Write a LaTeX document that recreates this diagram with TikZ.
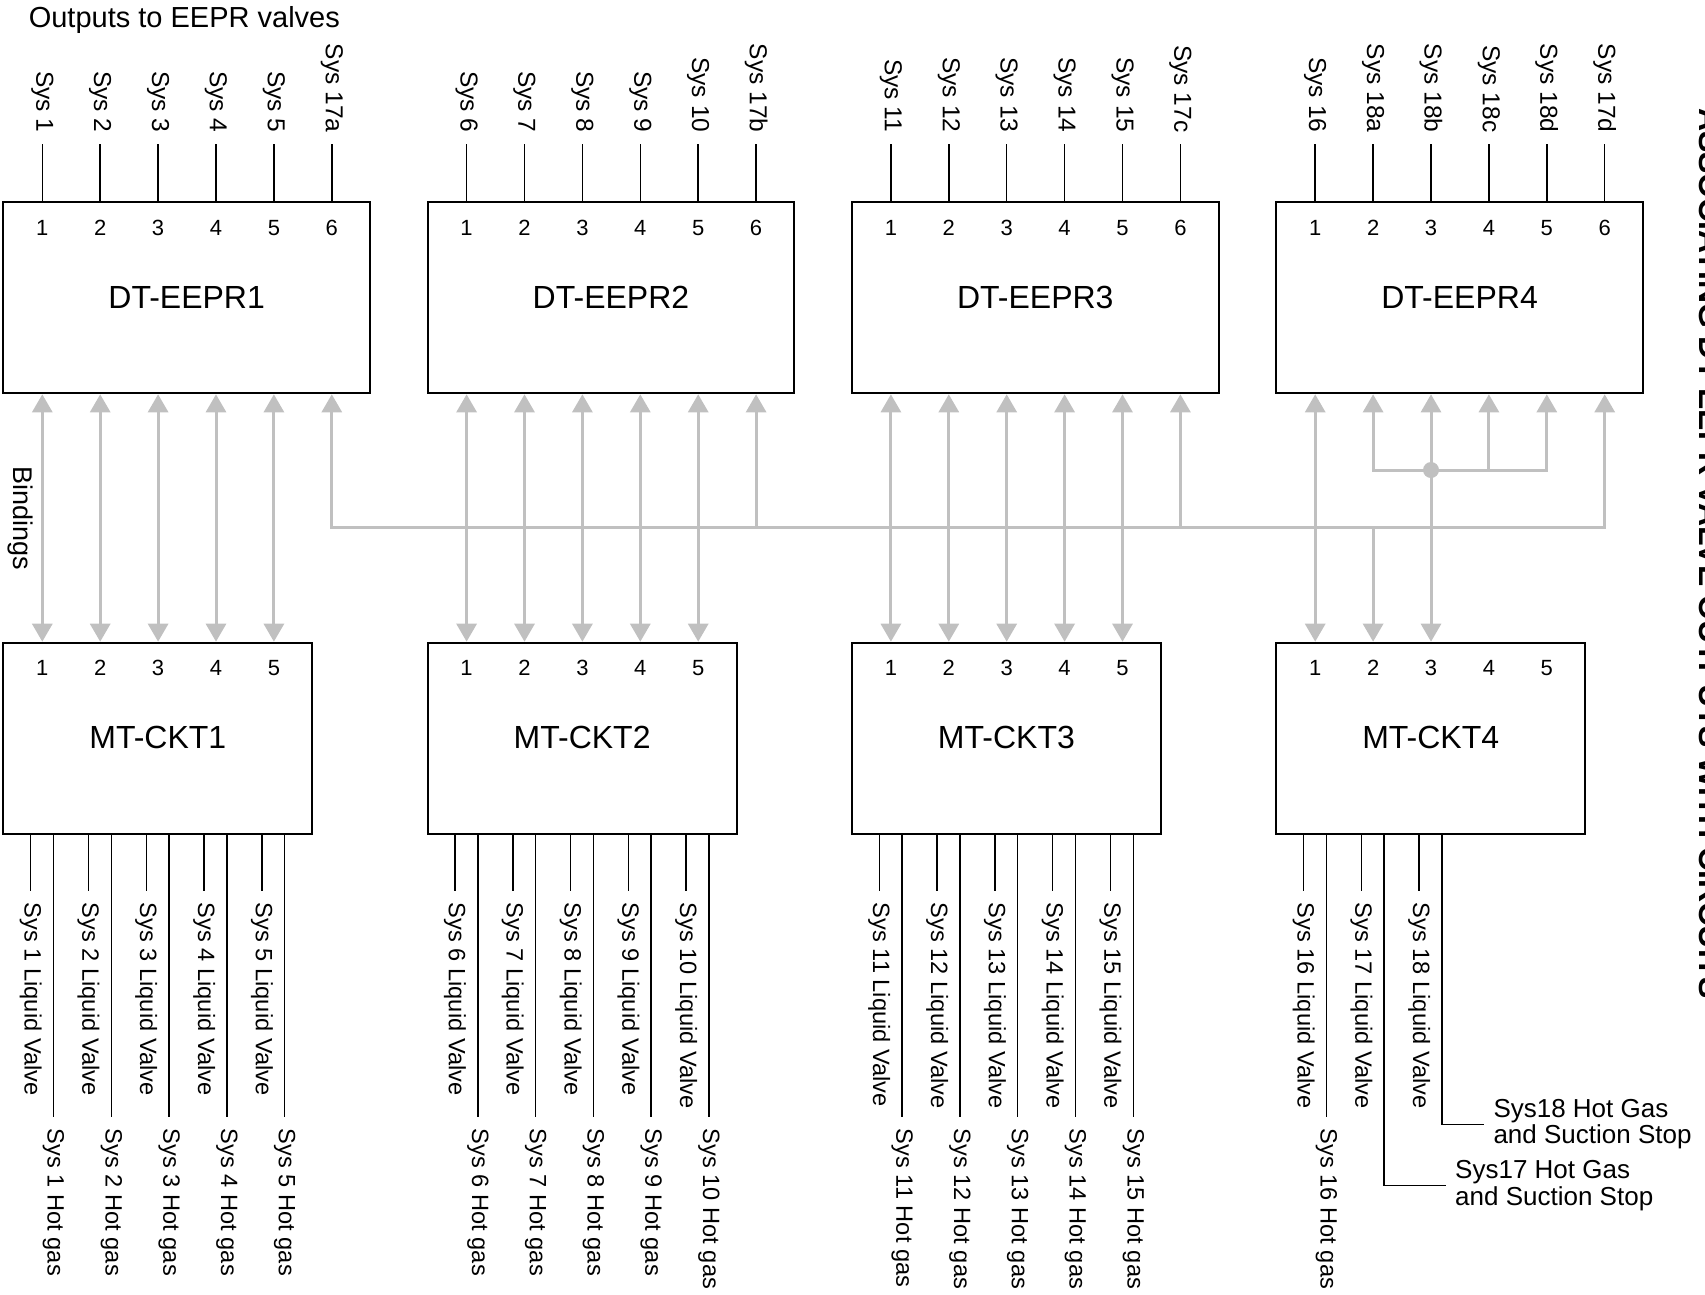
\documentclass[tikz,border=0pt]{standalone}
\usepackage{fontspec}
\setmainfont{Liberation Sans}
\usetikzlibrary{arrows.meta}
\definecolor{bindgray}{RGB}{192,192,192}
\begin{document}
\begin{tikzpicture}[x=1pt,y=-1pt,
  box/.style={draw=black, line width=2pt, inner sep=0pt, text depth=0pt, font=\fontsize{32}{38}\selectfont},
  dtbox/.style={box, minimum width=366.7pt, minimum height=191.6pt, text height=22pt},
  mtbox/.style={box, minimum width=309pt, minimum height=190.8pt, text height=20.4pt},
  pinnum/.style={anchor=base, inner sep=0pt, font=\fontsize{22}{26}\selectfont},
  toplab/.style={rotate=-90, anchor=east, inner xsep=11.5pt, inner ysep=0pt, font=\fontsize{24.5}{29}\selectfont},
  botlab/.style={rotate=-90, anchor=west, inner xsep=12pt, inner ysep=0pt, font=\fontsize{23.6}{28}\selectfont},
  callout/.style={anchor=west, align=left, inner xsep=9.3pt, inner ysep=0pt, font=\fontsize{26}{26.3}\selectfont},
  wire/.style={draw=black, line width=1.5pt},
  bind/.style={draw=bindgray, line width=3pt},
  tipup/.style={bind, -{Triangle[width=20pt,length=18pt]}},
  tipboth/.style={bind, {Triangle[width=20pt,length=18pt]}-{Triangle[width=20pt,length=18pt]}},
]
\useasboundingbox (0,0) rectangle (1705,1294);
\coordinate (toprow) at (0,144);
\coordinate (bus) at (0,527.7);
\coordinate (sub) at (0,470);

% boxes and pin numbers
\foreach \k in {0,1,2,3}{
  \pgfmathtruncatemacro\bn{\k+1}
  \pgfmathsetmacro\bx{3.3+424.3*\k}
  \node[dtbox] (d\bn) at (\bx+183.35,297.5) {DT-EEPR\bn};
  \node[mtbox] (m\bn) at (\bx+154.5,738.1) {MT-CKT\bn};
  \foreach \i in {1,...,6}{\node[pinnum] (d\bn n\i) at (\bx+39+57.9*\i-57.9,235) {\i};}
  \foreach \i in {1,...,5}{\node[pinnum] (m\bn n\i) at (\bx+39+57.9*\i-57.9,675) {\i};}
}

% top output labels
\foreach \b/\i/\t in {1/1/Sys 1,1/2/Sys 2,1/3/Sys 3,1/4/Sys 4,1/5/Sys 5,1/6/Sys 17a,
  2/1/Sys 6,2/2/Sys 7,2/3/Sys 8,2/4/Sys 9,2/5/Sys 10,2/6/Sys 17b,
  3/1/Sys 11,3/2/Sys 12,3/3/Sys 13,3/4/Sys 14,3/5/Sys 15,3/6/Sys 17c,
  4/1/Sys 16,4/2/Sys 18a,4/3/Sys 18b,4/4/Sys 18c,4/5/Sys 18d,4/6/Sys 17d}{
  \node[toplab] (t\b\i) at (d\b n\i |- toprow) {\t};
  \draw[wire] (t\b\i.east) -- (t\b\i.east |- d\b.north);
}

% bottom labels, boxes 1-3
\foreach \k in {0,1,2}{
  \pgfmathtruncatemacro\bn{\k+1}
  \pgfmathsetmacro\bx{3.3+424.3*\k}
  \foreach \j in {1,...,5}{
    \pgfmathtruncatemacro\sn{5*\k+\j}
    \node[botlab] (lv\sn) at (\bx+27.4+57.8*\j-57.8,890.7) {Sys \sn\ Liquid Valve};
    \node[botlab] (hg\sn) at (\bx+50.2+57.8*\j-57.8,1116.7) {Sys \sn\ Hot gas};
    \draw[wire] (lv\sn.west |- m\bn.south) -- (lv\sn.west);
    \draw[wire] (hg\sn.west |- m\bn.south) -- (hg\sn.west);
  }
}

% bottom labels, box 4
\node[botlab] (lv16) at (1303.6,890.7) {Sys 16 Liquid Valve};
\node[botlab] (hg16) at (1326.4,1116.7) {Sys 16 Hot gas};
\node[botlab] (lv17) at (1361.4,890.7) {Sys 17 Liquid Valve};
\node[botlab] (lv18) at (1419.2,890.7) {Sys 18 Liquid Valve};
\foreach \n in {lv16,hg16,lv17,lv18}{\draw[wire] (\n.west |- m4.south) -- (\n.west);}
\node[callout] (c17) at (1445.7,1185.7) {Sys17 Hot Gas\\and Suction Stop};
\node[callout] (c18) at (1484,1124.3) {Sys18 Hot Gas\\and Suction Stop};
\draw[wire] ([xshift=-46.5pt]m4.south) |- (c17.west);
\draw[wire] ([xshift=11.3pt]m4.south) |- (c18.west);

% bindings
\foreach \b in {1,2,3}{
  \foreach \i in {1,...,5}{\draw[tipboth] (d\b n\i |- d\b.south) -- (m\b n\i |- m\b.north);}
}
\draw[tipboth] (d4n1 |- d4.south) -- (m4n1 |- m4.north);
\draw[tipboth] (d4n3 |- d4.south) -- (m4n3 |- m4.north);
\draw[tipboth] (d1n6 |- d1.south) -- (d1n6 |- bus) -- (d4n6 |- bus) -- (d4n6 |- d4.south);
\draw[tipup] (d2n6 |- bus) -- (d2n6 |- d2.south);
\draw[tipup] (d3n6 |- bus) -- (d3n6 |- d3.south);
\draw[tipup] (d4n2 |- bus) -- (m4n2 |- m4.north);
\draw[tipboth] (d4n2 |- d4.south) -- (d4n2 |- sub) -- (d4n5 |- sub) -- (d4n5 |- d4.south);
\draw[tipup] (d4n4 |- sub) -- (d4n4 |- d4.south);
\fill[bindgray] (d4n3 |- sub) circle[radius=8pt];

% texts
\node[anchor=base west, inner sep=0pt, font=\fontsize{29}{34}\selectfont] (outs) at (28.6,27.3) {Outputs to EEPR valves};
\node[rotate=-90, inner sep=0pt, font=\fontsize{27}{32}\selectfont] (bind) at (20.5,518) {Bindings};
\node[rotate=-90, anchor=base west, inner sep=0pt, font=\bfseries\fontsize{32}{38}\selectfont] (title) at (1699,108) {ASSOCIATING DT-EEPR VALVE OUTPUTS WITH CIRCUITS};
\end{tikzpicture}
\end{document}
